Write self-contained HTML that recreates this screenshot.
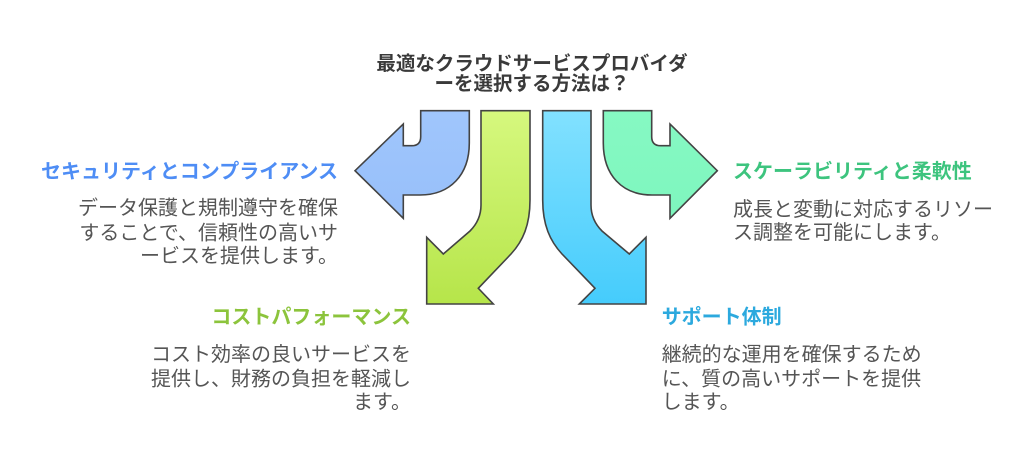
<!DOCTYPE html>
<html lang="ja">
<head>
<meta charset="utf-8">
<style>
  html,body{margin:0;padding:0;background:#fff;}
  body{width:1024px;height:464px;overflow:hidden;}
  svg{display:block;}
  text{font-family:"Liberation Sans","Noto Sans CJK JP",sans-serif;}
  .h{font-size:19.5px;font-weight:bold;fill:#3a3a3a;}
  .t{font-size:20px;font-weight:bold;}
  .b{font-size:20px;fill:#555555;}
</style>
</head>
<body>
<svg width="1024" height="464" viewBox="0 0 1024 464" xmlns="http://www.w3.org/2000/svg">
  <defs>
    <linearGradient id="gLime" x1="0" y1="0" x2="0" y2="1">
      <stop offset="0" stop-color="#D6F87E"/>
      <stop offset="1" stop-color="#B6E54A"/>
    </linearGradient>
    <linearGradient id="gCyan" x1="0" y1="0" x2="0" y2="1">
      <stop offset="0" stop-color="#82E1FF"/>
      <stop offset="1" stop-color="#45CCFC"/>
    </linearGradient>
    <linearGradient id="gBlue" x1="0" y1="0" x2="0" y2="1">
      <stop offset="0" stop-color="#A0C6FC"/>
      <stop offset="1" stop-color="#97BFFA"/>
    </linearGradient>
    <linearGradient id="gGreen" x1="0" y1="0" x2="0" y2="1">
      <stop offset="0" stop-color="#86F9C3"/>
      <stop offset="1" stop-color="#7EF6BE"/>
    </linearGradient>
  </defs>

  <!-- Header -->
  <text class="h" x="532" y="70" text-anchor="middle">最適なクラウドサービスプロバイダ</text>
  <text class="h" x="532" y="90" text-anchor="middle">ーを選択する方法は？</text>

  <!-- Blue arrow (left) -->
  <path d="M420.7,110.7 L469.3,110.7 L469.3,143 C469.3,175 450,195 420,195 L403.3,195 L403.3,218.3 L355,170.7 L403.3,124 L403.3,145.7 L411.7,145.7 Q420.7,145.7 420.7,136.7 Z"
        fill="url(#gBlue)" stroke="#434343" stroke-width="1.6" stroke-linejoin="miter"/>

  <!-- Green arrow (right) -->
  <path d="M651.7,110.7 L603.3,110.7 L603.3,143 C603.3,175 622,195 652,195 L670,195 L670,218.3 L717.3,170.7 L670,124 L670,145.7 L660.7,145.7 Q651.7,145.7 651.7,136.7 Z"
        fill="url(#gGreen)" stroke="#434343" stroke-width="1.6" stroke-linejoin="miter"/>

  <!-- Lime arrow (down-left) -->
  <path d="M530,110.7 L481,110.7 L481,205 C481,216 477,224 470,231 L443.3,254 L426.7,237.3 L426.7,304 L493.3,304 L478.3,288.3 L511,254 C523,241 530,225 530,200 Z"
        fill="url(#gLime)" stroke="#434343" stroke-width="1.6" stroke-linejoin="miter"/>

  <!-- Cyan arrow (down-right) -->
  <path d="M542.7,110.7 L591,110.7 L591,205 C591,216 595,224 602,231 L629.3,254 L646,237.3 L646,304 L579.3,304 L595,288.3 L562,254 C550,241 542.7,225 542.7,200 Z"
        fill="url(#gCyan)" stroke="#434343" stroke-width="1.6" stroke-linejoin="miter"/>

  <!-- Left: Security & Compliance -->
  <text class="t" x="338" y="178" text-anchor="end" fill="#4E8DF5">セキュリティとコンプライアンス</text>
  <text class="b" x="338" y="214.3" text-anchor="end">データ保護と規制遵守を確保</text>
  <text class="b" x="338" y="239.3" text-anchor="end">することで、信頼性の高いサ</text>
  <text class="b" x="338" y="262.6" text-anchor="end">ービスを提供します。</text>

  <!-- Right: Scalability & Flexibility -->
  <text class="t" x="733" y="178" fill="#3DC47E">スケーラビリティと柔軟性</text>
  <text class="b" x="733" y="216" >成長と変動に対応するリソー</text>
  <text class="b" x="733" y="239" >ス調整を可能にします。</text>

  <!-- Bottom-left: Cost performance -->
  <text class="t" x="411" y="323.3" text-anchor="end" fill="#8CC43C">コストパフォーマンス</text>
  <text class="b" x="411" y="361" text-anchor="end">コスト効率の良いサービスを</text>
  <text class="b" x="411" y="385.3" text-anchor="end">提供し、財務の負担を軽減し</text>
  <text class="b" x="411" y="408.6" text-anchor="end">ます。</text>

  <!-- Bottom-right: Support -->
  <text class="t" x="661.7" y="323.3" fill="#2CA9DE">サポート体制</text>
  <text class="b" x="661.7" y="361">継続的な運用を確保するため</text>
  <text class="b" x="661.7" y="385.3">に、質の高いサポートを提供</text>
  <text class="b" x="661.7" y="408.6">します。</text>
</svg>
</body>
</html>
